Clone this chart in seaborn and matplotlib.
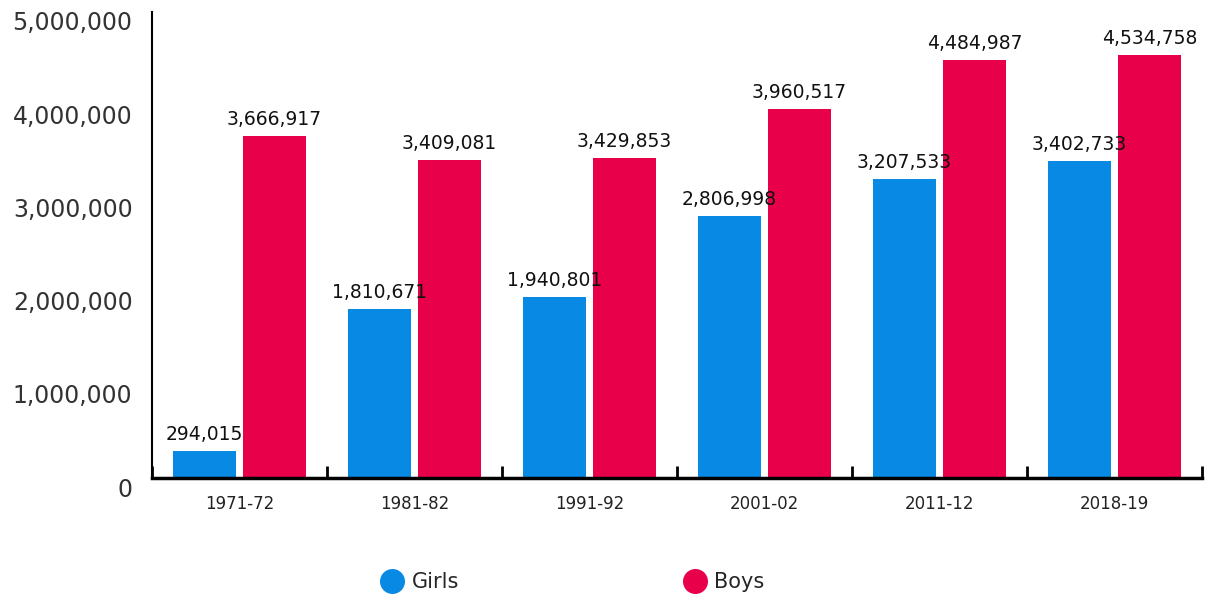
import matplotlib
matplotlib.use("Agg")
import matplotlib.pyplot as plt
import seaborn as sns
import pandas as pd
from matplotlib.transforms import ScaledTranslation
from matplotlib.lines import Line2D

years = ["1971-72", "1981-82", "1991-92", "2001-02", "2011-12", "2018-19"]
girls = [294015, 1810671, 1940801, 2806998, 3207533, 3402733]
boys = [3666917, 3409081, 3429853, 3960517, 4484987, 4534758]
series = ["Girls", "Boys"]
colors = {"Girls": "#0889E4", "Boys": "#E8004B"}
yticks = [0, 1000000, 2000000, 3000000, 4000000, 5000000]

df = pd.DataFrame({
    "year": years * 2,
    "value": girls + boys,
    "sex": ["Girls"] * len(years) + ["Boys"] * len(years),
})

sns.set_theme(style="white")
plt.rcParams["font.family"] = ["DejaVu Sans"]

fig = plt.figure(figsize=(12.05, 5.97), dpi=100)
ax = fig.add_axes([0.1261, 0.1993, 0.8714, 0.7806])

sns.barplot(data=df, x="year", y="value", hue="sex", hue_order=series,
            palette=colors, width=0.8, gap=0.1, ax=ax, legend=False,
            saturation=1, edgecolor="none")

for cont in ax.containers:
    ax.bar_label(cont, labels=[f"{int(v):,}" for v in cont.datavalues],
                 padding=5, fontsize=13.5, color="#111111")

ax.set_xlim(-0.5, len(years) - 0.5)
ax.set_ylim(0, 5000000)
ax.set_yticks(yticks)
ax.set_yticklabels([f"{v:,}" for v in yticks], fontsize=17, color="#333333")
ax.set_xlabel("")
ax.set_ylabel("")
ax.set_xticks(range(len(years)))
ax.set_xticklabels(years, fontsize=12, color="#222222")
ax.set_xticks([i - 0.5 for i in range(len(years) + 1)], minor=True)
ax.tick_params(axis="x", which="major", length=0, pad=12)
ax.tick_params(axis="x", which="minor", bottom=True, direction="in", length=9,
               width=2, color="black")
ax.tick_params(axis="y", length=0, pad=14)

for lab in ax.get_yticklabels():
    lab.set_transform(lab.get_transform() + ScaledTranslation(0, -0.09, fig.dpi_scale_trans))

for s in ["top", "right"]:
    ax.spines[s].set_visible(False)
ax.spines["left"].set_color("black")
ax.spines["left"].set_linewidth(1.5)
ax.spines["bottom"].set_color("black")
ax.spines["bottom"].set_linewidth(2.5)

handles = [Line2D([0], [0], marker="o", linestyle="none", markersize=18,
                  markerfacecolor=colors[s], markeredgecolor="none") for s in series]
fig.legend(handles, series, loc="center", bbox_to_anchor=(0.4756, 0.025), ncol=2,
           frameon=False, fontsize=15, handletextpad=0.45, columnspacing=10.8,
           handlelength=1.0)

fig.savefig("out.png", dpi=100)
